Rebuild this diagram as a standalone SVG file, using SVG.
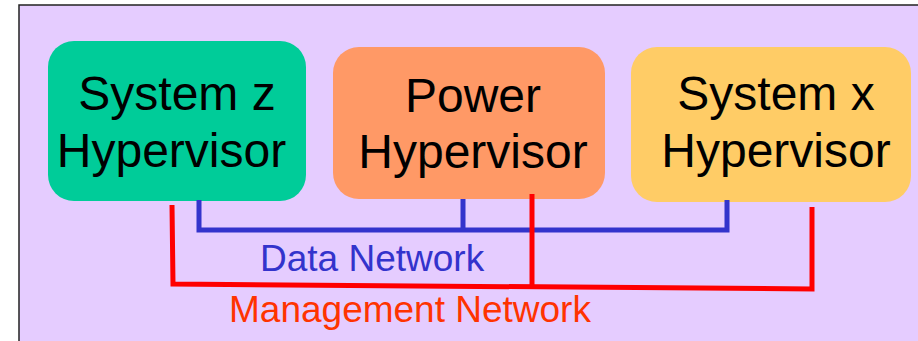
<svg xmlns="http://www.w3.org/2000/svg" width="918" height="341" viewBox="0 0 918 341">
<style>
.lbl{font-family:"Liberation Sans",Arial,sans-serif;font-size:48px;fill:#000;text-anchor:middle}
.net{font-family:"Liberation Sans",Arial,sans-serif;font-size:37px}
.data{stroke:#3333CC;stroke-width:5;fill:none}
.mgmt{stroke:#FF0000;stroke-width:5;fill:none}
</style>
<rect x="0" y="0" width="918" height="341" fill="#ffffff"/>
<rect x="19" y="5" width="910" height="350" fill="#E5CCFF" stroke="#222" stroke-width="1.5"/>
<g id="sysz">
<rect x="48" y="41" width="258" height="160" rx="26" fill="#00CC99"/>
<text class="lbl" x="177" y="110">System z</text>
<text class="lbl" x="171.5" y="167">Hypervisor</text>
</g>
<g id="power">
<rect x="333" y="47" width="272" height="152" rx="26" fill="#FF9966"/>
<text class="lbl" x="473" y="112">Power</text>
<text class="lbl" x="473" y="168">Hypervisor</text>
</g>
<g id="sysx">
<rect x="631" y="47" width="280" height="155" rx="26" fill="#FFCC66"/>
<text class="lbl" x="776" y="110">System x</text>
<text class="lbl" x="776" y="167">Hypervisor</text>
</g>
<g id="connectors">
<polyline class="data" points="199,200 199,230 727,230 727,200"/>
<line class="data" x1="463" y1="199" x2="463" y2="230"/>
<polyline class="mgmt" points="172,205 173,284 812,289 812,207"/>
<line class="mgmt" x1="532" y1="194" x2="532" y2="286"/>
</g>
<g id="labels">
<text class="net" x="260" y="271" fill="#3333CC">Data Network</text>
<text class="net" x="229" y="322" fill="#FF3300">Management Network</text>
</g>
</svg>
